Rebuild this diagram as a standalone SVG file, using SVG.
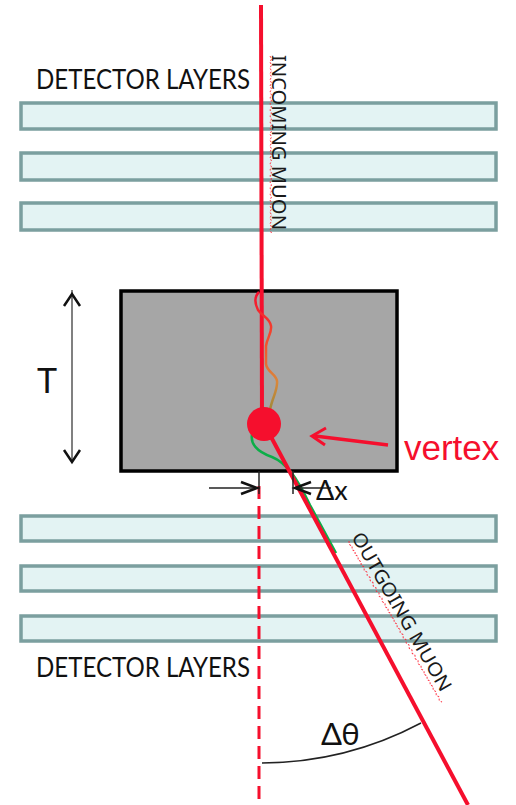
<svg xmlns="http://www.w3.org/2000/svg" width="516" height="805" viewBox="0 0 516 805">
  <defs>
    <style>
      .layer { fill: #e3f3f3; stroke: #7b9f9f; stroke-width: 3.5; }
      .label { font-family: Lato, "Liberation Sans", sans-serif; fill: #111; }
      .track-label { font-family: "Noto Sans", "Liberation Sans", sans-serif; fill: #1a1a1a; }
      .muon { fill: none; stroke: #f50f2d; stroke-width: 4; stroke-linecap: butt; }
      .dim { fill: none; stroke: #222; stroke-width: 1.5; }
      .chev { fill: none; stroke: #111; stroke-width: 2.5; stroke-linejoin: miter; }
      .squig { fill: none; stroke: #f23; stroke-width: 0.9; stroke-dasharray: 2 1.5; }
    </style>
    <linearGradient id="scatterGrad" x1="0" y1="292" x2="0" y2="412" gradientUnits="userSpaceOnUse">
      <stop offset="0" stop-color="#f5102e"/>
      <stop offset="0.45" stop-color="#f2552e"/>
      <stop offset="0.75" stop-color="#d9873a"/>
      <stop offset="1" stop-color="#9a8a3a"/>
    </linearGradient>
  </defs>

  <rect width="516" height="805" fill="#ffffff"/>

  <!-- upper detector planes -->
  <g id="upper-layers">
    <rect class="layer" x="21" y="103" width="475" height="26"/>
    <rect class="layer" x="21" y="153" width="475" height="27"/>
    <rect class="layer" x="21" y="203" width="475" height="27"/>
    <text class="label" x="36" y="89" font-size="26" textLength="214" lengthAdjust="spacingAndGlyphs">DETECTOR LAYERS</text>
  </g>

  <!-- lower detector planes -->
  <g id="lower-layers">
    <rect class="layer" x="21" y="516" width="475" height="25"/>
    <rect class="layer" x="21" y="566" width="475" height="25"/>
    <rect class="layer" x="21" y="616" width="475" height="25"/>
    <text class="label" x="36" y="677" font-size="26" textLength="214" lengthAdjust="spacingAndGlyphs">DETECTOR LAYERS</text>
  </g>

  <!-- target block -->
  <g id="block">
    <rect x="121" y="291" width="276" height="180" fill="#a6a6a6" stroke="#000" stroke-width="3.5"/>
  </g>

  <!-- thickness marker -->
  <g id="thickness">
    <line x1="72" y1="290" x2="72" y2="462" stroke="#808080" stroke-width="2"/>
    <polyline class="chev" points="64,306 72,294 80,306"/>
    <polyline class="chev" points="64,450 72,462 80,450"/>
    <text class="label" x="37" y="393" font-size="34">T</text>
  </g>

  <g id="connectors">
    <!-- incoming track -->
    <line class="muon" x1="261" y1="5" x2="262" y2="420"/>
    <!-- multiple scattering path inside block -->
    <path d="M259,292 C254,297 255,304 258,310 C262,316 270,318 271,326 C272,333 267,338 266,346 L266,364 C267,372 276,374 277,381 C278,390 272,398 270,410" fill="none" stroke="url(#scatterGrad)" stroke-width="2.5"/>
    <!-- secondary path after vertex -->
    <path d="M253,430 C248,444 258,452 272,457 C287,463 297,478 310,505 L336,553" fill="none" stroke="#0cae48" stroke-width="2.5"/>
    <!-- outgoing track -->
    <line class="muon" x1="262" y1="420" x2="468" y2="805"/>
    <!-- projected straight line -->
    <line x1="259" y1="486" x2="259" y2="805" stroke="#f50f2d" stroke-width="3" stroke-dasharray="13 7"/>
    <!-- displacement markers -->
    <line class="dim" x1="259" y1="471" x2="259" y2="494"/>
    <line class="dim" x1="293" y1="471" x2="293" y2="494"/>
    <line class="dim" x1="209" y1="488" x2="258" y2="488"/>
    <polyline class="chev" points="241,482 257,488 241,494"/>
    <line class="dim" x1="295" y1="488" x2="331" y2="488"/>
    <polyline class="chev" points="311,482 295,488 311,494"/>
    <!-- deflection angle arc -->
    <path d="M262,763 A343,343 0 0 0 421,723" class="dim" stroke="#333"/>
    <!-- vertex pointer -->
    <line x1="388" y1="445" x2="315" y2="436" stroke="#f50f2d" stroke-width="3.5"/>
    <polyline points="326,428 312,436 325,445" fill="none" stroke="#f50f2d" stroke-width="3"/>
  </g>

  <!-- interaction vertex -->
  <g id="vertex">
    <circle cx="264" cy="424" r="17" fill="#f50f2d"/>
    <text x="404" y="460" font-family="'Liberation Sans', Arial, sans-serif" font-size="35" fill="#f50f2d">vertex</text>
  </g>

  <!-- track labels -->
  <g id="incoming-label">
    <text class="track-label" transform="translate(272,55) rotate(90)" font-size="19" textLength="175" lengthAdjust="spacingAndGlyphs">INCOMING MUON</text>
    <path class="squig" d="M270,56 l1.5,3 l-1.5,3 l1.5,3 l-1.5,3 l1.5,3 l-1.5,3 l1.5,3 l-1.5,3 l1.5,3 l-1.5,3 l1.5,3 l-1.5,3 l1.5,3 l-1.5,3 l1.5,3 l-1.5,3 l1.5,3 l-1.5,3 l1.5,3 l-1.5,3 l1.5,3 l-1.5,3 l1.5,3 l-1.5,3 l1.5,3 l-1.5,3 l1.5,3 l-1.5,3 l1.5,3 l-1.5,3 l1.5,3 l-1.5,3 l1.5,3 l-1.5,3 l1.5,3 l-1.5,3 l1.5,3 l-1.5,3 l1.5,3 l-1.5,3 l1.5,3 l-1.5,3 l1.5,3 l-1.5,3 l1.5,3 l-1.5,3 l1.5,3 l-1.5,3 l1.5,3 l-1.5,3 l1.5,3 l-1.5,3 l1.5,3 l-1.5,3 l1.5,3 l-1.5,3 l1.5,3 l-1.5,3 l1.5,3"/>
  </g>
  <g id="outgoing-label">
    <text class="track-label" transform="translate(351,537) rotate(60)" font-size="19" textLength="180" lengthAdjust="spacingAndGlyphs">OUTGOING MUON</text>
    <path class="squig" transform="translate(349,541) rotate(60)" d="M0,0 l3,1.5 l3,-1.5 l3,1.5 l3,-1.5 l3,1.5 l3,-1.5 l3,1.5 l3,-1.5 l3,1.5 l3,-1.5 l3,1.5 l3,-1.5 l3,1.5 l3,-1.5 l3,1.5 l3,-1.5 l3,1.5 l3,-1.5 l3,1.5 l3,-1.5 l3,1.5 l3,-1.5 l3,1.5 l3,-1.5 l3,1.5 l3,-1.5 l3,1.5 l3,-1.5 l3,1.5 l3,-1.5 l3,1.5 l3,-1.5 l3,1.5 l3,-1.5 l3,1.5 l3,-1.5 l3,1.5 l3,-1.5 l3,1.5 l3,-1.5 l3,1.5 l3,-1.5 l3,1.5 l3,-1.5 l3,1.5 l3,-1.5 l3,1.5 l3,-1.5 l3,1.5 l3,-1.5 l3,1.5 l3,-1.5 l3,1.5 l3,-1.5 l3,1.5 l3,-1.5 l3,1.5 l3,-1.5 l3,1.5 l3,-1.5 l3,1.5 l3,-1.5"/>
  </g>

  <!-- measured quantities -->
  <g id="quantities">
    <text class="label" x="316" y="500" font-size="27">Δx</text>
    <text class="label" x="321" y="745" font-size="31">Δθ</text>
  </g>
</svg>
